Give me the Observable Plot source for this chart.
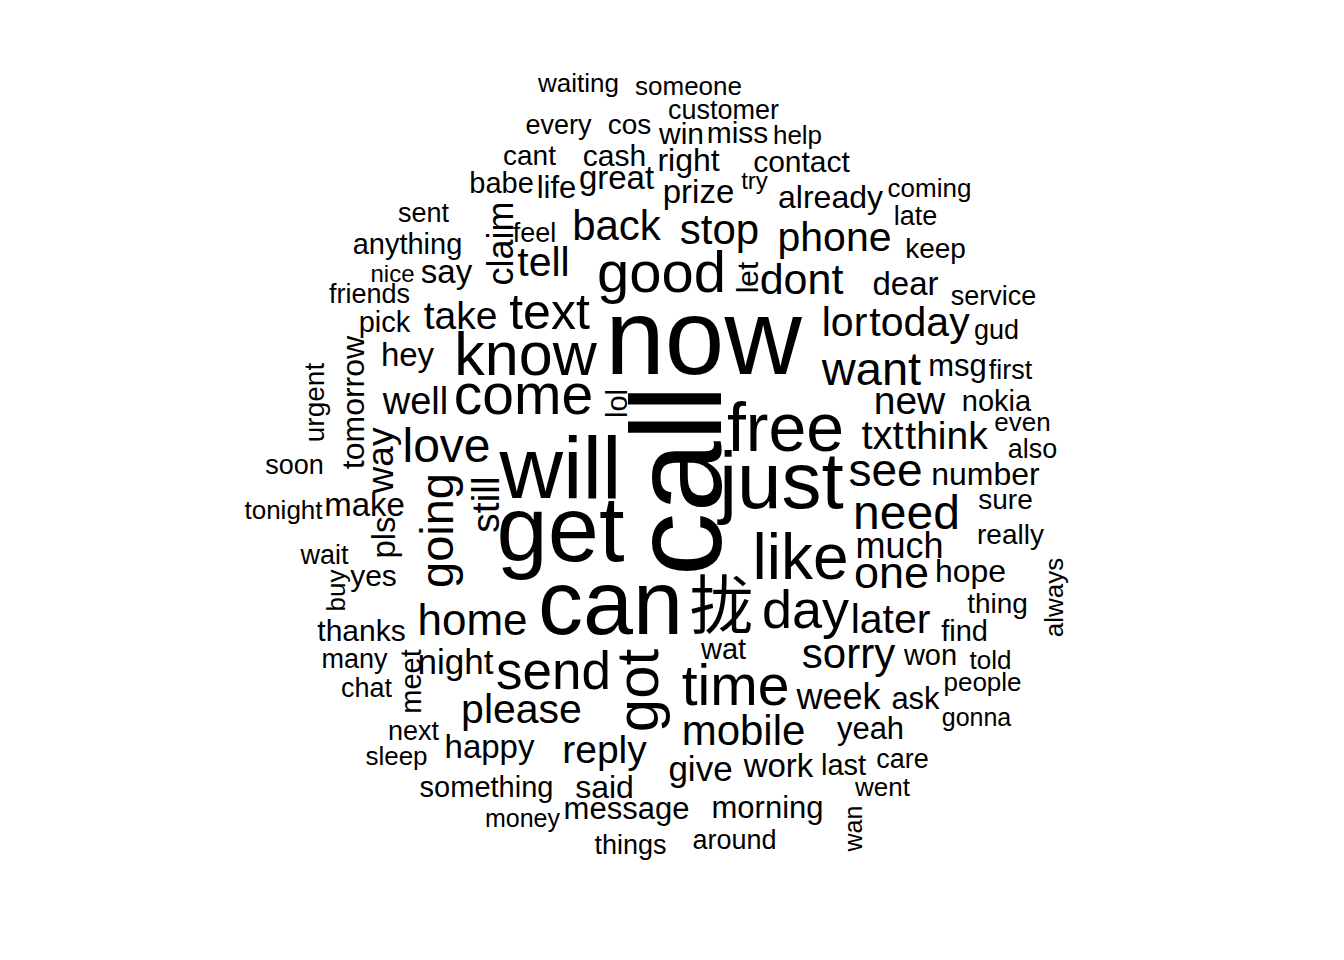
<!DOCTYPE html>
<html>
<head>
<meta charset="utf-8">
<script src="https://cdn.jsdelivr.net/npm/d3@7"></script>
<script src="https://cdn.jsdelivr.net/npm/@observablehq/plot@0.6"></script>
<style>
  html, body { margin: 0; padding: 0; background: #ffffff; }
  #chart { width: 1344px; height: 960px; }
</style>
</head>
<body>
<div id="chart"></div>
<script>
// Word cloud: words, layout coordinates (cloud space), weight (rendered size), orientation
const words = ["waiting","someone","customer","every","cos","win","miss","help","cant","cash","right","contact","babe","life","great","try","prize","already","coming","late","sent","claim","feel","back","stop","phone","keep","anything","tell","good","let","dont","dear","service","say","nice","friends","lor","today","gud","take","pick","text","now","know","hey","tomorrow","urgent","msg","first","want","well","come","lol","new","nokia","even","free","txt","think","also","love","way","soon","will","call","just","see","number","still","going","make","tonight","get","need","sure","really","like","much","one","hope","always","thing","pls","wait","buy","yes","can","拢","day","later","find","thanks","home","got","wat","sorry","won","told","many","meet","night","send","time","chat","people","week","ask","please","mobile","next","gonna","yeah","sleep","happy","reply","give","work","last","care","something","said","went","message","morning","money","wan","things","around"];
const layoutX = [578,688,723,558,629,681,737,797,529,614,688,801,501,556,616,754,698,830,929,915,423,512,534,616,719,834,935,407,543,661,757,801,905,993,446,392,369,844,919,996,460,384,549,703,525,407,363,323,957,1010,871,415,523,626,909,996,1022,785,882,946,1032,446,392,294,560,720,781,885,985,498,452,364,283,560,906,1005,1010,800,899,891,970,1062,997,394,324,344,373,610,721,805,890,964,361,472,657,723,848,930,990,354,420,455,553,735,366,982,838,915,521,743,413,976,870,396,489,604,700,778,843,902,486,604,882,626,767,522,861,630,734];
const layoutY = [91,94,118,133,133,143,142,143,164,165,170,171,192,197,188,188,202,207,196,224,221,243,241,239,243,250,257,253,275,291,277,293,294,304,282,281,302,335,335,338,328,331,328,373,374,365,402,402,375,378,384,413,413,403,413,410,430,450,448,448,457,461,460,473,497,480,507,485,484,504,530,515,518,560,528,508,543,578,557,587,581,597,612,537,563,590,585,633,627,627,632,640,640,634,690,658,667,664,668,667,681,673,688,704,696,690,708,708,722,744,739,725,738,764,757,762,780,776,774,767,796,797,795,818,817,826,828,853,848];
const weight = [26,26,27,27,28,30,30,26,28,30,32,30,29,31,33,24,33,32,26,27,27,36,27,42,42,41,28,29,41,58,30,43,33,27,33,24,27,41,41,27,39,29,50,107,61,33,32,28,31,27,47,38,57,29,39,29,26,68,40,39,27,48,37,27,88,128,80,46,32,39,47,33,26,92,48,28,28,64,36,45,32,26,28,33,27,26,30,90,64,54,41,29,30,44,60,29,42,29,26,27,29,35,53,57,27,26,36,31,41,42,27,25,31,26,33,39,35,33,29,27,29,32,26,31,31,25,25,27,27];
const vertical = ["claim","let","tomorrow","urgent","lol","way","call","still","going","always","pls","buy","got","meet","wan"];

const cloud = words.map((w, i) => ({
  word: w,
  x: layoutX[i],
  y: layoutY[i],
  size: weight[i],
  angle: vertical.includes(w) ? -90 : 0
}));

const chart = Plot.plot({
  width: 1344,
  height: 960,
  margin: 0,
  style: {background: "#ffffff"},
  x: {domain: [0, 1344], range: [0, 1344], axis: null},
  y: {domain: [0, 960], range: [0, 960], axis: null},
  marks: [
    Plot.text(cloud, {
      x: "x",
      y: "y",
      text: "word",
      fontSize: "size",
      rotate: "angle",
      textAnchor: "middle",
      lineAnchor: "bottom",
      fill: "#000000",
      fontFamily: "'Liberation Sans', Arial, 'Noto Sans CJK SC', sans-serif"
    })
  ]
});
document.getElementById("chart").appendChild(chart);
</script>
</body>
</html>
